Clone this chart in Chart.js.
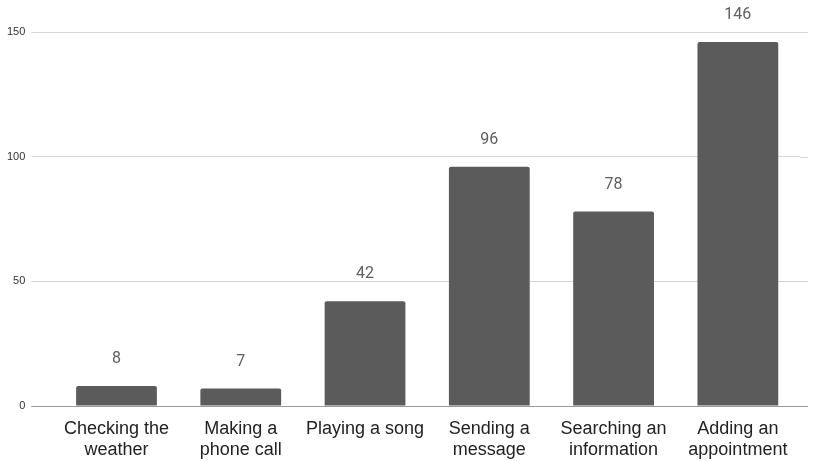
<!DOCTYPE html>
<html lang="en">
<head>
<meta charset="utf-8">
<style>
  html, body { margin: 0; padding: 0; background: #fff; }
  #wrap { width: 813px; height: 461px; }
</style>
</head>
<body>
<div id="wrap">
  <canvas id="myChart" width="813" height="461"></canvas>
</div>
<script src="https://cdn.jsdelivr.net/npm/chart.js"></script>
<script>
const labels = [
    ['Checking the', 'weather'],
    ['Making a', 'phone call'],
    'Playing a song',
    ['Sending a', 'message'],
    ['Searching an', 'information'],
    ['Adding an', 'appointment']
];
const counts = [8, 7, 42, 96, 78, 146];
const yTicks = [0, 50, 100, 150];

// value labels above each bar + small grid stub on the right side
const valueLabels = {
    id: 'valueLabels',
    afterDatasetsDraw(chart) {
        const ctx = chart.ctx;
        const meta = chart.getDatasetMeta(0);
        ctx.save();
        ctx.font = '16px Roboto, "Open Sans", sans-serif';
        ctx.fillStyle = '#5f5f5f';
        ctx.textAlign = 'center';
        ctx.textBaseline = 'middle';
        meta.data.forEach((bar, i) => {
            ctx.fillText(String(counts[i]), bar.x, bar.y - 27);
        });
        ctx.restore();
    }
};
const gridStub = {
    id: 'gridStub',
    beforeDatasetsDraw(chart) {
        const ctx = chart.ctx;
        const y = chart.scales.y;
        const area = chart.chartArea;
        ctx.save();
        ctx.lineWidth = 1;
        yTicks.forEach(v => {
            const py = Math.round(y.getPixelForValue(v)) + 0.5;
            ctx.strokeStyle = v === 0 ? '#9a9a9a' : '#d6d6d6';
            ctx.beginPath();
            ctx.moveTo(area.right, py);
            ctx.lineTo(area.right + 8, py);
            ctx.stroke();
        });
        ctx.restore();
    }
};

const data = {
    labels: labels,
    datasets: [{
        data: counts,
        backgroundColor: '#5b5b5b',
        borderRadius: 2,
        borderSkipped: 'bottom',
        barPercentage: 0.65,
        categoryPercentage: 1
    }]
};

const config = {
    type: 'bar',
    data: data,
    options: {
        responsive: false,
        animation: false,
        layout: { padding: { left: 1, right: 13, top: 32, bottom: 2 } },
        plugins: {
            legend: { display: false },
            tooltip: { enabled: false }
        },
        scales: {
            x: {
                afterFit(axis) {
                    axis.height = 53;
                },
                grid: { display: false, drawTicks: false },
                border: { display: false },
                ticks: {
                    color: '#222',
                    font: { family: '"Liberation Sans", Arial, sans-serif', size: 18, lineHeight: 1.15 },
                    padding: 13,
                    maxRotation: 0,
                    autoSkip: false
                }
            },
            y: {
                min: 0,
                max: 150,
                afterBuildTicks(axis) {
                    axis.ticks = yTicks.map(v => ({ value: v }));
                },
                grid: {
                    color: ctx => (ctx.tick && ctx.tick.value === 0) ? '#9a9a9a' : '#d6d6d6',
                    drawTicks: true,
                    tickLength: 23
                },
                border: { display: false },
                ticks: {
                    color: '#333',
                    font: { family: '"Liberation Sans", Arial, sans-serif', size: 11 },
                    padding: 6
                }
            }
        }
    },
    plugins: [gridStub, valueLabels]
};

const myChart = new Chart(document.getElementById('myChart'), config);
</script>
</body>
</html>
